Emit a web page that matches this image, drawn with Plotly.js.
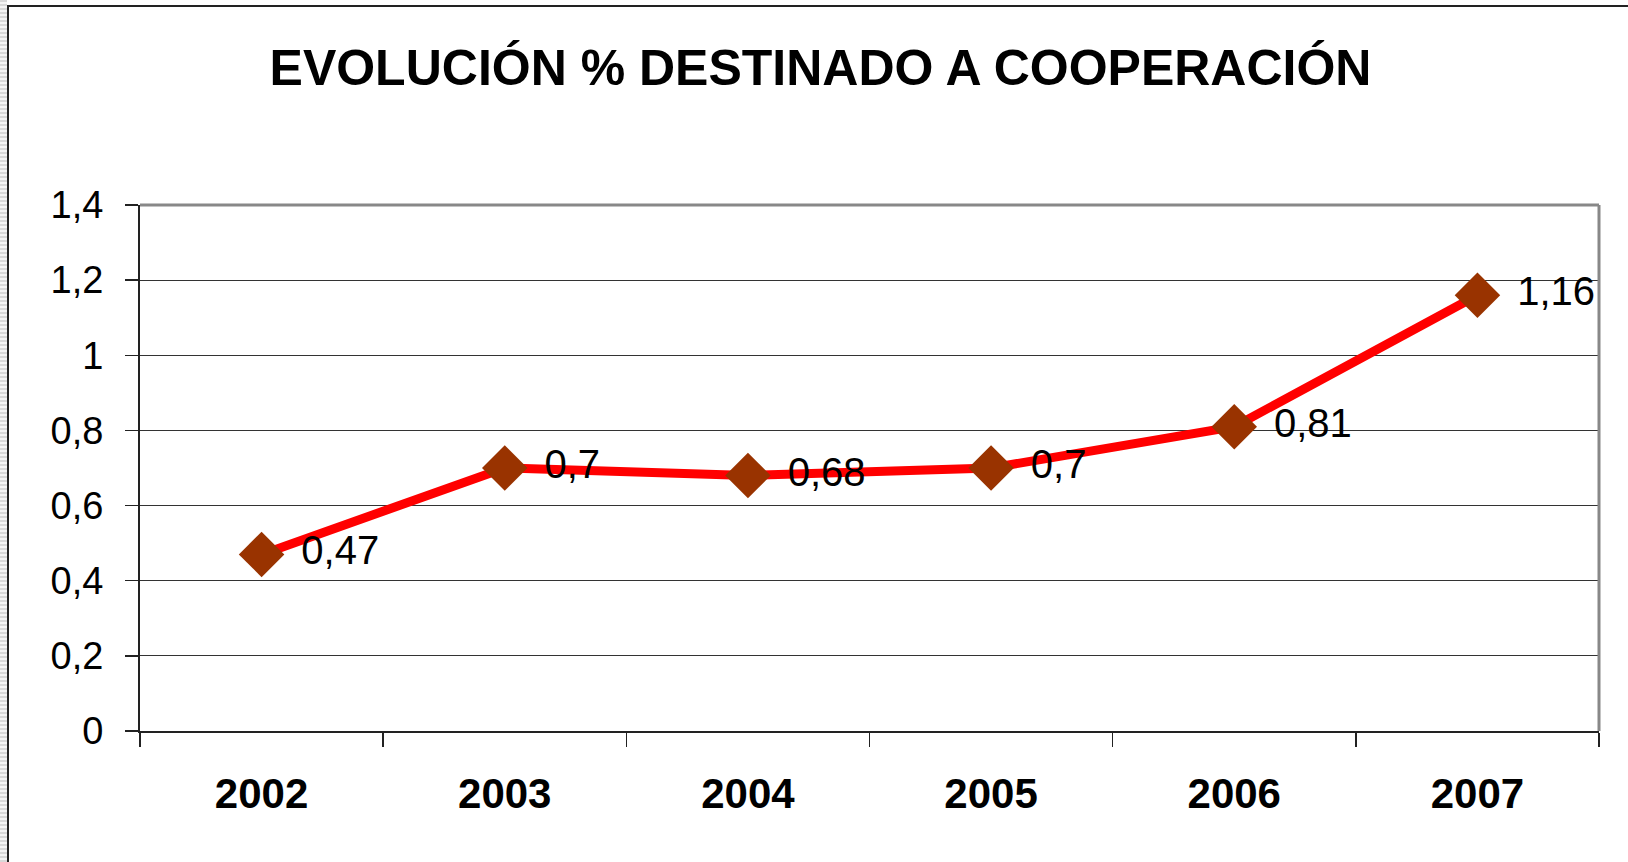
<!DOCTYPE html>
<html>
<head>
<meta charset="utf-8">
<script src="https://cdn.plot.ly/plotly-3.0.1.min.js"></script>
<style>
  html, body { margin: 0; padding: 0; background: #fff; }
  #wrap { position: relative; width: 1628px; height: 862px; overflow: hidden; }
  #chart { position: absolute; left: 0; top: 0; width: 1628px; height: 862px; }
  #frame { position: absolute; left: 7px; top: 5px; width: 1640px; height: 900px;
           border-left: 2px solid #222; border-top: 2px solid #222; pointer-events: none; }
  #stripes { position: absolute; left: 0; top: 0; width: 7px; height: 862px;
             background: repeating-linear-gradient(to bottom, #d8d8d8 0px, #d8d8d8 2px, #f4f4f4 2px, #f4f4f4 4px); }
</style>
</head>
<body>
<div id="wrap">
  <div id="chart"></div>
  <div id="stripes"></div>
  <div id="frame"></div>
</div>
<script>
const titleText = "EVOLUCIÓN % DESTINADO A COOPERACIÓN";
const years = ["2002", "2003", "2004", "2005", "2006", "2007"];
const values = [0.47, 0.7, 0.68, 0.7, 0.81, 1.16];
const yTicks = [0, 0.2, 0.4, 0.6, 0.8, 1, 1.2, 1.4];

const FONT = "Liberation Sans, Arial, sans-serif";

const lineTrace = {
  type: "scatter",
  mode: "lines+markers",
  x: years,
  y: values,
  line: { color: "#ff0000", width: 9 },
  marker: { symbol: "diamond", size: 35, color: "#993300", line: { width: 0 } },
  cliponaxis: false,
  hoverinfo: "skip"
};

// invisible wide markers used only to push the value labels away from the diamonds
const labelTrace = {
  type: "scatter",
  mode: "markers+text",
  x: years,
  y: values,
  marker: { size: 62, opacity: 0, color: "#fff" },
  texttemplate: "%{y}",
  textposition: "middle right",
  textfont: { family: FONT, size: 40, color: "#000" },
  cliponaxis: false,
  hoverinfo: "skip"
};

const layout = {
  width: 1628,
  height: 862,
  margin: { l: 140, r: 29, t: 205, b: 131, pad: 0 },
  paper_bgcolor: "#ffffff",
  plot_bgcolor: "#ffffff",
  separators: ", ",
  showlegend: false,
  font: { family: FONT, color: "#000" },
  title: {
    text: "<b>" + titleText + "</b>",
    font: { family: FONT, size: 50, color: "#000" },
    xref: "container", x: 0.504, xanchor: "center",
    yref: "container", y: 0.922, yanchor: "middle"
  },
  xaxis: {
    type: "category",
    range: [-0.5, 5.5],
    tickson: "boundaries",
    ticks: "outside",
    ticklen: 14,
    tickwidth: 1.5,
    tickcolor: "#222",
    showline: true,
    linecolor: "#222",
    linewidth: 2,
    showgrid: false,
    zeroline: false,
    ticklabelstandoff: 25,
    tickfont: { family: FONT, size: 42, color: "#000", weight: "bold" },
    fixedrange: true
  },
  yaxis: {
    range: [0, 1.4],
    tickvals: yTicks,
    ticks: "outside",
    ticklen: 13,
    tickwidth: 1.5,
    tickcolor: "#222",
    showline: true,
    linecolor: "#222",
    linewidth: 2,
    showgrid: true,
    gridcolor: "#333",
    gridwidth: 1,
    zeroline: false,
    ticklabelstandoff: 14,
    tickfont: { family: FONT, size: 38, color: "#000" },
    fixedrange: true
  },
  shapes: [
    { type: "line", xref: "paper", yref: "paper", x0: 0, x1: 1, y0: 1, y1: 1,
      line: { color: "#888", width: 3 }, layer: "above" },
    { type: "line", xref: "paper", yref: "paper", x0: 1, x1: 1, y0: 0, y1: 1,
      line: { color: "#888", width: 3 }, layer: "above" }
  ]
};

Plotly.newPlot("chart", [lineTrace, labelTrace], layout, { staticPlot: true, displayModeBar: false });
</script>
</body>
</html>
